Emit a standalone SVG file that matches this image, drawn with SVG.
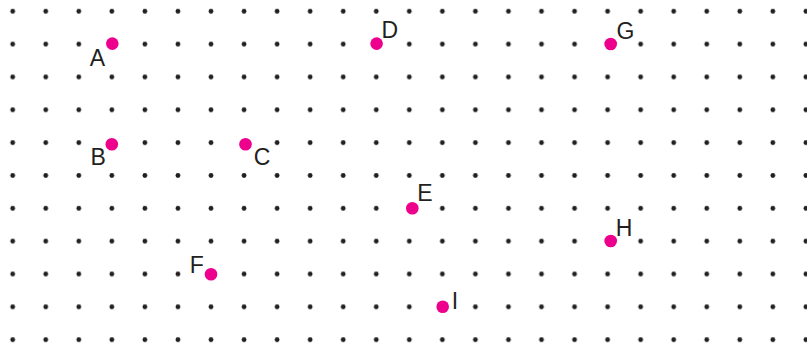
<svg xmlns="http://www.w3.org/2000/svg" width="807" height="346" viewBox="0 0 807 346">
  <style>
    .pt { fill: #EC008C; }
    .lbl { font-family: "Liberation Sans", Arial, Helvetica, sans-serif; font-size: 23px; fill: #231F20; }
  </style>
  <defs>
    <pattern id="grid" patternUnits="userSpaceOnUse" x="-3.825" y="-5.12" width="33.05" height="32.84">
      <circle cx="16.525" cy="16.42" r="2.4" fill="#231F20"/>
    </pattern>
  </defs>
  <rect id="dot-grid" x="0" y="0" width="807" height="346" fill="url(#grid)"/>
  <g id="A"><circle class="pt" cx="112.3" cy="43.6" r="6.3"/><text class="lbl" x="89.8" y="65.5">A</text></g>
  <g id="B"><circle class="pt" cx="111.8" cy="144.2" r="6.3"/><text class="lbl" x="90.5" y="164.5">B</text></g>
  <g id="C"><circle class="pt" cx="245.5" cy="144.2" r="6.3"/><text class="lbl" x="253.8" y="164.8">C</text></g>
  <g id="D"><circle class="pt" cx="376.6" cy="43.6" r="6.3"/><text class="lbl" x="381.4" y="38">D</text></g>
  <g id="E"><circle class="pt" cx="412.3" cy="208.3" r="6.3"/><text class="lbl" x="417.3" y="201">E</text></g>
  <g id="F"><circle class="pt" cx="211" cy="274.3" r="6.3"/><text class="lbl" x="189.8" y="273">F</text></g>
  <g id="G"><circle class="pt" cx="610.7" cy="44" r="6.3"/><text class="lbl" x="616.4" y="38.8">G</text></g>
  <g id="H"><circle class="pt" cx="610.7" cy="241" r="6.3"/><text class="lbl" x="615.8" y="236">H</text></g>
  <g id="I"><circle class="pt" cx="442.7" cy="306.7" r="6.3"/><text class="lbl" x="451.8" y="308.6">I</text></g>
</svg>
